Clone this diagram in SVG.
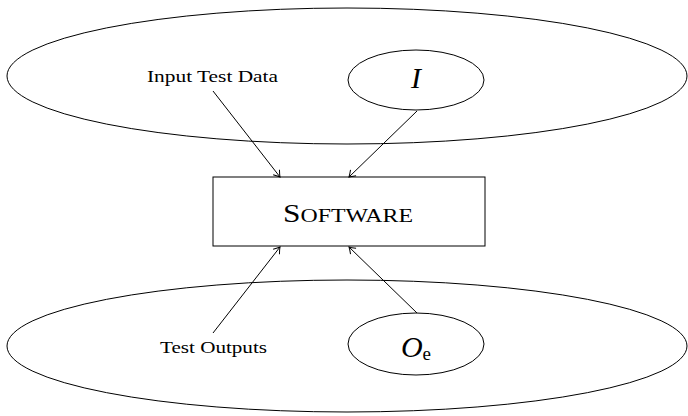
<svg xmlns="http://www.w3.org/2000/svg" width="688" height="416" viewBox="0 0 688 416">
<defs>
<style>
.sh{fill:none;stroke:#000;stroke-width:1}
.lbl{font-family:'Liberation Serif','Times New Roman',serif;font-size:16px;fill:#000}
.math{font-family:'Liberation Serif','Times New Roman',serif;font-style:italic;font-size:30px;fill:#000}
.conn{fill:none;stroke:#000;stroke-width:1;marker-end:url(#ah)}
</style>
<marker id="ah" viewBox="-8 -5 10 10" refX="0" refY="0" markerWidth="10" markerHeight="10" markerUnits="userSpaceOnUse" orient="auto">
<path d="M-6,-4 Q-2,-1 0,0 Q-2,1 -6,4" fill="none" stroke="#000" stroke-width="1"/>
</marker>
</defs>
<rect width="688" height="416" fill="#fff"/>
<g id="inputs-domain">
<ellipse class="sh" cx="347" cy="76" rx="340" ry="68"/>
</g>
<g id="outputs-domain">
<ellipse class="sh" cx="347" cy="346" rx="340" ry="66"/>
</g>
<g id="input-test-data">
<text class="lbl" x="147" y="82" textLength="131" lengthAdjust="spacingAndGlyphs">Input Test Data</text>
</g>
<g id="I">
<ellipse class="sh" cx="416" cy="80" rx="68" ry="30"/>
<text class="math" x="416" y="88" text-anchor="middle">I</text>
</g>
<g id="software">
<rect class="sh" x="213" y="177" width="272" height="69"/>
<text x="283" y="222" textLength="130" lengthAdjust="spacingAndGlyphs" font-family="'Liberation Serif','Times New Roman',serif" fill="#000"><tspan font-size="25">S</tspan><tspan font-size="19">OFTWARE</tspan></text>
</g>
<g id="test-outputs">
<text class="lbl" x="160" y="353" textLength="107" lengthAdjust="spacingAndGlyphs">Test Outputs</text>
</g>
<g id="Oe">
<ellipse class="sh" cx="416" cy="344" rx="68" ry="31"/>
<text x="416" y="357" text-anchor="middle" font-family="'Liberation Serif','Times New Roman',serif" fill="#000"><tspan font-style="italic" font-size="30">O</tspan><tspan font-size="19" dy="3">e</tspan></text>
</g>
<g id="connectors">
<line class="conn" x1="213" y1="91" x2="280" y2="177"/>
<line class="conn" x1="417" y1="111" x2="349" y2="177"/>
<line class="conn" x1="213" y1="333" x2="280" y2="247"/>
<line class="conn" x1="417" y1="313" x2="349" y2="247"/>
</g>
</svg>
